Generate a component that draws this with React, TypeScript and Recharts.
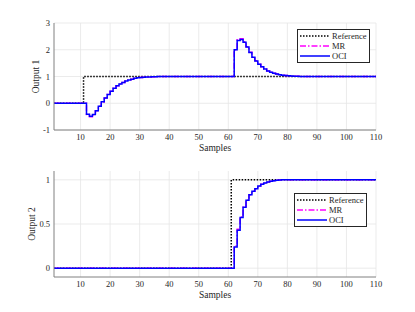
import { LineChart, Line, XAxis, YAxis, CartesianGrid } from 'recharts'

// sample index 1..110
const samples = Array.from({ length: 110 }, (_, i) => i + 1)
const flat = (v: number, n: number) => Array(n).fill(v)

// Output 1 transients
const oci1Dip = [-0.41, -0.49, -0.42, -0.28, -0.11, 0.06, 0.2, 0.33, 0.45, 0.56, 0.65, 0.72, 0.78, 0.83, 0.87, 0.9, 0.93, 0.95, 0.96, 0.97, 0.98, 0.985, 0.99, 0.995, 0.998]
const mr1Dip = [-0.42, -0.5, -0.43, -0.28, -0.11, 0.05, 0.2, 0.33, 0.45, 0.56, 0.65, 0.72, 0.78, 0.83, 0.87, 0.9, 0.93, 0.95, 0.96, 0.97, 0.98, 0.985, 0.99, 0.995, 0.998]
const oci1Peak = [2.0, 2.35, 2.38, 2.28, 2.1, 1.9, 1.72, 1.58, 1.46, 1.36, 1.28, 1.21, 1.16, 1.12, 1.09, 1.07, 1.05, 1.035, 1.025, 1.015, 1.01, 1.005]
const mr1Peak = [2.0, 2.37, 2.41, 2.3, 2.11, 1.91, 1.73, 1.59, 1.46, 1.36, 1.28, 1.21, 1.16, 1.12, 1.09, 1.07, 1.05, 1.035, 1.025, 1.015, 1.01, 1.005]

// Output 2 rise after the reference step at 61
const oci2Rise = [0.24, 0.43, 0.575, 0.69, 0.77, 0.83, 0.87, 0.9, 0.93, 0.95, 0.965, 0.975, 0.985, 0.99, 0.995, 0.998]
const mr2Rise = [0.25, 0.44, 0.58, 0.69, 0.77, 0.83, 0.87, 0.9, 0.93, 0.95, 0.965, 0.975, 0.985, 0.99, 0.995, 0.998]

const ref1 = [...flat(0, 10), ...flat(1, 100)]
const oci1 = [...flat(0, 11), ...oci1Dip, ...flat(1, 25), ...oci1Peak, ...flat(1, 27)]
const mr1 = [...flat(0, 11), ...mr1Dip, ...flat(1, 25), ...mr1Peak, ...flat(1, 27)]

const ref2 = [...flat(0, 60), ...flat(1, 50)]
const oci2 = [...flat(0, 61), ...oci2Rise, ...flat(1, 33)]
const mr2 = [...flat(0, 61), ...mr2Rise, ...flat(1, 33)]

const xTicks = [10, 20, 30, 40, 50, 60, 70, 80, 90, 100, 110]
const y1Ticks = [-1, 0, 1, 2, 3]
const y2Ticks = [0, 0.5, 1]

const data1 = samples.map((x, i) => ({ x, ref: ref1[i], mr: mr1[i], oci: oci1[i] }))
const data2 = samples.map((x, i) => ({ x, ref: ref2[i], mr: mr2[i], oci: oci2[i] }))

const FONT = '"Liberation Serif", "Times New Roman", serif'
const AXIS = '#808080'
const TEXT = '#262626'

function LegendBox({ left, top }: { left: number; top: number }) {
  const rows = [
    { name: 'Reference', color: '#000', dash: '1.5 1.5' },
    { name: 'MR', color: '#ff00ff', dash: '6 2 1.5 2' },
    { name: 'OCI', color: '#0000ff', dash: undefined },
  ]
  return (
    <div style={{ position: 'absolute', left, top, width: 67, border: '1px solid #262626', background: '#fff', padding: '1px 2px', fontFamily: FONT, fontSize: 8.5, color: TEXT }}>
      {rows.map(r => (
        <div key={r.name} style={{ display: 'flex', alignItems: 'center', height: 10 }}>
          <svg width={30} height={6} style={{ marginRight: 2 }}>
            <line x1={0} y1={3} x2={30} y2={3} stroke={r.color} strokeWidth={1.5} strokeDasharray={r.dash} />
          </svg>
          <span>{r.name}</span>
        </div>
      ))}
    </div>
  )
}

function Panel({ data, yDomain, yTicks, yLabel, margin, labelX, height }: any) {
  return (
    <LineChart width={415} height={height} data={data} margin={margin}>
      <CartesianGrid stroke="#e6e6e6" strokeWidth={0.8} horizontalValues={yTicks} verticalValues={xTicks} />
      <XAxis
        dataKey="x"
        type="number"
        domain={[1, 110]}
        ticks={xTicks}
        interval={0}
        stroke={AXIS}
        tickLine={false}
        tickSize={0}
        tickMargin={4}
        height={26}
        tick={{ fill: TEXT, fontSize: 8.5, fontFamily: FONT }}
        label={{
          content: ({ viewBox }: any) => (
            <text x={viewBox.x + viewBox.width / 2} y={viewBox.y + 21} textAnchor="middle" fontSize={9.5} fontFamily={FONT} fill={TEXT}>
              Samples
            </text>
          ),
        }}
      />
      <YAxis
        type="number"
        domain={yDomain}
        ticks={yTicks}
        interval={0}
        minTickGap={0}
        stroke={AXIS}
        tickLine={false}
        tickSize={0}
        tickMargin={4}
        width={54}
        tick={{ fill: TEXT, fontSize: 8.5, fontFamily: FONT }}
        label={{
          content: ({ viewBox }: any) => (
            <text
              transform={`translate(${labelX}, ${viewBox.y + viewBox.height / 2}) rotate(-90)`}
              textAnchor="middle"
              fontSize={9.5}
              fontFamily={FONT}
              fill={TEXT}
            >
              {yLabel}
            </text>
          ),
        }}
      />
      <Line type="stepAfter" dataKey="ref" stroke="#000" strokeWidth={1.5} strokeDasharray="1.5 1.5" dot={false} isAnimationActive={false} />
      <Line type="stepAfter" dataKey="mr" stroke="#ff00ff" strokeWidth={1.5} strokeDasharray="6 2 1.5 2" dot={false} isAnimationActive={false} />
      <Line type="stepAfter" dataKey="oci" stroke="#0000ff" strokeWidth={1.5} dot={false} isAnimationActive={false} />
    </LineChart>
  )
}

export default function App() {
  return (
    <div style={{ position: 'absolute', left: 0, top: 0, width: 415, height: 312, background: '#fff' }}>
      <div style={{ position: 'absolute', left: 0, top: 0 }}>
        <Panel
          data={data1}
          height={156}
          margin={{ top: 23, right: 39, bottom: 0, left: 0 }}
          yDomain={[-1, 3]}
          yTicks={y1Ticks}
          yLabel="Output 1"
          labelX={39}
        />
      </div>
      <div style={{ position: 'absolute', left: 0, top: 156 }}>
        <Panel
          data={data2}
          height={156}
          margin={{ top: 15, right: 39, bottom: 9, left: 0 }}
          yDomain={[-0.1, 1.1]}
          yTicks={y2Ticks}
          yLabel="Output 2"
          labelX={35}
        />
      </div>
      <LegendBox left={297} top={29} />
      <LegendBox left={294} top={193} />
    </div>
  )
}
